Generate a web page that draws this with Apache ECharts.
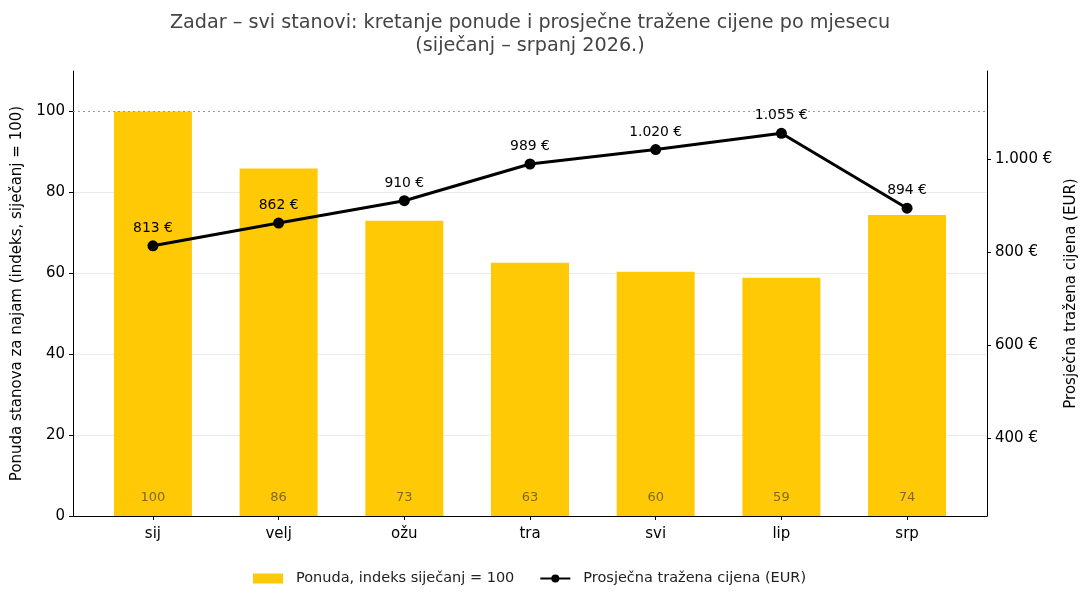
<!DOCTYPE html>
<html>
<head>
<meta charset="utf-8">
<script src="https://cdn.jsdelivr.net/npm/echarts@6/dist/echarts.min.js"></script>
<style>html,body{margin:0;padding:0;background:#fff}#c{width:1089px;height:602px}</style>
</head>
<body>
<div id="c"></div>
<script>
const categories = ['sij', 'velj', 'ožu', 'tra', 'svi', 'lip', 'srp'];
const supplyIndex = [100, 85.9, 73.0, 62.6, 60.4, 58.9, 74.4];
const avgPrice = [813, 862, 910, 989, 1020, 1055, 894];
const leftTicks = [0, 20, 40, 60, 80, 100];
const rightTicks = [400, 600, 800, 1000];

const FONT = 'DejaVu Sans';
function fmtEur(v) {
  return String(Math.round(v)).replace(/\B(?=(\d{3})+(?!\d))/g, '.') + ' €';
}
const idx = categories.map((_, i) => i);

const chart = echarts.init(document.getElementById('c'), null, {renderer: 'canvas'});
chart.setOption({
  animation: false,
  backgroundColor: '#ffffff',
  textStyle: {fontFamily: FONT},
  title: {
    text: 'Zadar – svi stanovi: kretanje ponude i prosječne tražene cijene po mjesecu\n(siječanj – srpanj 2026.)',
    left: 525, top: 7, textAlign: 'center',
    textStyle: {fontFamily: FONT, fontSize: 19.2, fontWeight: 'normal', color: '#444444', lineHeight: 23}
  },
  legend: {
    top: 571, left: 253, itemGap: 25, padding: 0,
    textStyle: {fontFamily: FONT, fontSize: 14.5, color: '#222', padding: [0, 0, 0, 8]},
    data: [
      {name: 'Ponuda, indeks siječanj = 100', icon: 'rect', itemStyle: {color: '#FFCA05'}},
      {name: 'Prosječna tražena cijena (EUR)'}
    ],
    itemWidth: 30, itemHeight: 10
  },
  grid: {left: 73, right: 102, top: 71, bottom: 86, containLabel: false},
  xAxis: {
    type: 'value', min: -0.636, max: 6.636,
    axisLine: {show: true, onZero: false, lineStyle: {color: '#000', width: 1}},
    axisTick: {show: true, customValues: idx, length: 4, lineStyle: {color: '#000'}},
    axisLabel: {customValues: idx, formatter: v => categories[Math.round(v)], fontFamily: FONT, fontSize: 15, color: '#000', margin: 11},
    splitLine: {show: false}
  },
  yAxis: [
    {
      type: 'value', min: 0, max: 110, interval: 20, position: 'left',
      name: 'Ponuda stanova za najam (indeks, siječanj = 100)',
      nameLocation: 'middle', nameGap: 48, nameRotate: 90,
      nameTextStyle: {fontFamily: FONT, fontSize: 15, color: '#000'},
      axisLine: {show: true, onZero: false, lineStyle: {color: '#000', width: 1}},
      axisTick: {show: true, customValues: leftTicks, length: 4, lineStyle: {color: '#000'}},
      axisLabel: {customValues: leftTicks, fontFamily: FONT, fontSize: 15, color: '#000', margin: 8},
      splitLine: {show: true, showMinLine: false, showMaxLine: false, lineStyle: {color: '#ebebeb', width: 1}}
    },
    {
      type: 'value', min: 232, max: 1189, position: 'right',
      name: 'Prosječna tražena cijena (EUR)',
      nameLocation: 'middle', nameGap: 75, nameRotate: 90,
      nameTextStyle: {fontFamily: FONT, fontSize: 15, color: '#000'},
      axisLine: {show: true, onZero: false, lineStyle: {color: '#000', width: 1}},
      axisTick: {show: true, customValues: rightTicks, length: 4, lineStyle: {color: '#000'}},
      axisLabel: {customValues: rightTicks, formatter: fmtEur, fontFamily: FONT, fontSize: 15, color: '#000', margin: 8},
      splitLine: {show: false}
    }
  ],
  series: [
    {
      name: 'Ponuda, indeks siječanj = 100',
      type: 'bar', yAxisIndex: 0, barWidth: 78,
      data: supplyIndex.map((v, i) => [i, v]),
      itemStyle: {color: '#FFCA05'},
      label: {
        show: true, position: 'insideBottom', distance: 12,
        formatter: p => Math.round(p.value[1]),
        fontFamily: FONT, fontSize: 13, color: '#7d6a1c'
      },
      markLine: {
        silent: true, symbol: 'none', label: {show: false},
        lineStyle: {color: '#999999', type: [2, 3], width: 1},
        data: [{yAxis: 100}]
      },
      z: 2
    },
    {
      name: 'Prosječna tražena cijena (EUR)',
      type: 'line', yAxisIndex: 1,
      data: avgPrice.map((v, i) => [i, v]),
      lineStyle: {color: '#000', width: 3},
      itemStyle: {color: '#000'},
      symbol: 'circle', symbolSize: 11,
      label: {
        show: true, position: 'top', distance: 5,
        formatter: p => fmtEur(p.value[1]),
        fontFamily: FONT, fontSize: 13.9, color: '#000'
      },
      z: 5
    }
  ]
});
</script>
</body>
</html>
